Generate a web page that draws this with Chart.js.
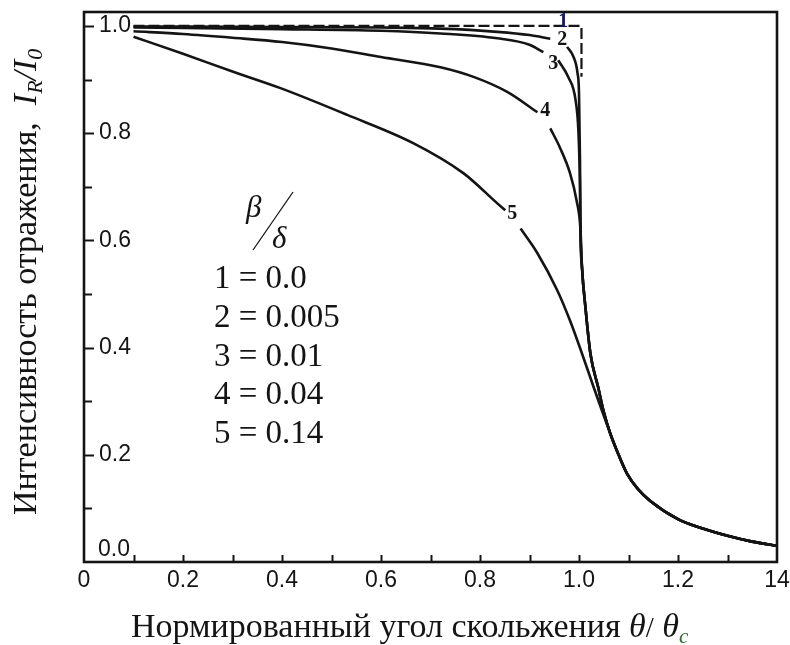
<!DOCTYPE html>
<html><head><meta charset="utf-8">
<script src="https://cdn.jsdelivr.net/npm/chart.js@4/dist/chart.umd.min.js"></script>
<style>html,body{margin:0;padding:0;background:#fff}canvas{display:block}</style>
</head><body>
<canvas id="c" width="790" height="645"></canvas>
<script>
// ---- tick labels ----
const xTickValues = [0, 0.2, 0.4, 0.6, 0.8, 1.0, 1.2, 1.4];
const xTickLabels = ['0', '0.2', '0.4', '0.6', '0.8', '1.0', '1.2', '14'];
const yTickValues = [0, 0.2, 0.4, 0.6, 0.8, 1.0];
const yTickLabels = ['0.0', '0.2', '0.4', '0.6', '0.8', '1.0'];
const xTitle = 'Нормированный угол скольжения ';
const yTitle = 'Интенсивность отражения,  ';
// ---- legend ----
const curveNames = ['1', '2', '3', '4', '5'];
const ratioLabels = ['1 = 0.0', '2 = 0.005', '3 = 0.01', '4 = 0.04', '5 = 0.14'];
// label anchors on curves (data coordinates)
const curveLabelX = [0.968, 0.966, 0.948, 0.932, 0.865];
const curveLabelY = [1.008, 0.974, 0.929, 0.841, 0.650];

// ---- series (x = θ/θc, y = I_R/I_0); null = gap for curve label ----
const c1x = [0.1, 0.4, 0.7, 1.005, 1.005];
const c1y = [1.0, 1.0, 1.0, 1.0, 0.905];
const c2x = [0.1, 0.4, 0.6, 0.72, 0.835, 0.9, 0.942, 0.96, 0.976, 0.989, 0.997, 1.0, 1.002];
const c2y = [0.999, 0.998, 0.997, 0.995, 0.989, 0.983, 0.976, null, 0.961, 0.942, 0.912, 0.875, 0.75];
const c3x = [0.1, 0.4, 0.6, 0.72, 0.835, 0.9, 0.928, 0.943, 0.958, 0.978, 0.993, 0.999, 1.002];
const c3y = [0.997, 0.994, 0.991, 0.986, 0.977, 0.965, 0.951, null, 0.936, 0.905, 0.862, 0.8, 0.7];
const c4x = [0.1, 0.2, 0.3, 0.4, 0.5, 0.6, 0.72, 0.787, 0.855, 0.916, 0.93, 0.942, 0.962, 0.982, 0.995];
const c4y = [0.99, 0.985, 0.978, 0.97, 0.958, 0.942, 0.923, 0.905, 0.877, 0.839, null, 0.809, 0.772, 0.725, 0.675];
const c5x = [0.1, 0.2, 0.3, 0.397, 0.532, 0.666, 0.767, 0.835, 0.851, 0.866, 0.882, 0.916, 0.956, 0.982, 1.006, 1.03, 1.056, 1.08, 1.097, 1.12];
const c5y = [0.98, 0.948, 0.915, 0.884, 0.834, 0.781, 0.725, 0.669, 0.656, null, 0.622, 0.576, 0.507, 0.45, 0.389, 0.325, 0.258, 0.2, 0.165, 0.135];
const tailX = [1.003, 1.006, 1.013, 1.023, 1.039, 1.05, 1.063, 1.08, 1.097, 1.12, 1.144, 1.2, 1.245, 1.3, 1.35, 1.4];
const tailY = [0.62, 0.55, 0.475, 0.389, 0.325, 0.28, 0.24, 0.2, 0.165, 0.135, 0.114, 0.08, 0.064, 0.049, 0.038, 0.03];

const mk = (xs, ys) => xs.map((x, i) => ({ x: x, y: ys[i] }));
const tailFrom = (x0) => mk(tailX, tailY).filter(p => p.x >= x0);

const INK = '#141414';
const SERIF = '"Liberation Serif", "Times New Roman", serif';
const SANS = '"Liberation Sans", Arial, sans-serif';

function lineDs(data, extra) {
  return Object.assign({
    data: data, borderColor: INK, borderWidth: 2.6, pointRadius: 0,
    fill: false, spanGaps: false, cubicInterpolationMode: 'monotone'
  }, extra || {});
}

const decor = {
  id: 'decor',
  afterDatasetsDraw(chart) {
    const ctx = chart.ctx, a = chart.chartArea;
    const xs = chart.scales.x, ys = chart.scales.y;
    ctx.save();
    // frame
    ctx.strokeStyle = INK; ctx.lineWidth = 2.6;
    ctx.strokeRect(a.left, a.top, a.right - a.left, a.bottom - a.top);
    // inward ticks
    ctx.lineWidth = 2;
    xs.ticks.forEach(t => {
      if (t.value <= 0 || t.value >= 1.4 - 1e-9) return;
      const px = Math.round(xs.getPixelForValue(t.value)) + 0.5;
      ctx.beginPath(); ctx.moveTo(px, a.bottom); ctx.lineTo(px, a.bottom - 7); ctx.stroke();
    });
    ys.ticks.forEach(t => {
      if (t.value <= 0) return;
      const py = Math.round(ys.getPixelForValue(t.value)) + 0.5;
      const major = Math.abs(t.value * 5 - Math.round(t.value * 5)) < 1e-6;
      ctx.beginPath(); ctx.moveTo(a.left, py); ctx.lineTo(a.left + (major ? 10 : 8), py); ctx.stroke();
    });
    // "0.0" label sits above the x axis
    ctx.fillStyle = INK; ctx.font = '23px ' + SANS;
    ctx.textAlign = 'left'; ctx.textBaseline = 'middle';
    ctx.fillText(yTickLabels[0], a.left + 14, ys.getPixelForValue(0) - 12);

    // x title
    ctx.textBaseline = 'alphabetic';
    let x = 131; const by = 637;
    const pieces = [
      [xTitle, '34px ' + SERIF, 0, INK],
      ['θ', 'italic 34px ' + SERIF, 0, INK],
      ['/', '29px ' + SERIF, 0, INK],
      [' θ', 'italic 34px ' + SERIF, 0, INK],
      ['c', 'italic 21px ' + SERIF, 6, '#2f6a2f']
    ];
    pieces.forEach(p => {
      ctx.font = p[1]; ctx.fillStyle = p[3];
      ctx.fillText(p[0], x, by + p[2]);
      x += ctx.measureText(p[0]).width;
    });

    // y title (rotated)
    ctx.save();
    ctx.translate(36, 515); ctx.rotate(-Math.PI / 2);
    let yx = 0;
    const ypieces = [
      [yTitle, '34px ' + SERIF, 0],
      ['I', 'italic 34px ' + SERIF, 0],
      ['R', 'italic 22px ' + SERIF, 6],
      ['/', 'italic 34px ' + SERIF, 0],
      ['I', 'italic 34px ' + SERIF, 0],
      ['0', 'italic 22px ' + SERIF, 6]
    ];
    ctx.fillStyle = INK;
    ypieces.forEach(p => {
      ctx.font = p[1];
      ctx.fillText(p[0], yx, p[2]);
      yx += ctx.measureText(p[0]).width;
    });
    ctx.restore();

    // legend block β/δ
    ctx.fillStyle = INK;
    ctx.font = 'italic 31px ' + SERIF;
    ctx.fillText('β', 246, 217);
    ctx.fillText('δ', 272, 248);
    ctx.lineWidth = 1.3;
    ctx.beginPath(); ctx.moveTo(293, 192); ctx.lineTo(253, 250); ctx.stroke();
    ctx.font = '33px ' + SERIF;
    ratioLabels.forEach((s, i) => ctx.fillText(s, 214, 288 + i * 38.8));

    // curve labels
    ctx.font = 'bold 20px ' + SERIF; ctx.textAlign = 'center'; ctx.textBaseline = 'middle';
    curveNames.forEach((n, i) => {
      ctx.fillStyle = i === 0 ? '#16165e' : INK;
      ctx.fillText(n, xs.getPixelForValue(curveLabelX[i]), ys.getPixelForValue(curveLabelY[i]));
    });
    ctx.restore();
  }
};

new Chart(document.getElementById('c'), {
  type: 'line',
  data: {
    datasets: [
      lineDs(mk(c1x, c1y), { borderDash: [11, 4], borderWidth: 2.2, cubicInterpolationMode: 'default', tension: 0 }),
      lineDs(mk(c2x, c2y).concat(tailFrom(1.003))),
      lineDs(mk(c3x, c3y).concat(tailFrom(1.003))),
      lineDs(mk(c4x, c4y).concat(tailFrom(1.003))),
      lineDs(mk(c5x, c5y).concat(tailFrom(1.144)))
    ]
  },
  options: {
    responsive: false, animation: false, devicePixelRatio: 1,
    layout: { padding: { top: 12, right: 13, left: 0, bottom: 0 } },
    plugins: { legend: { display: false }, tooltip: { enabled: false } },
    scales: {
      x: {
        type: 'linear', position: 'bottom', min: 0, max: 1.4,
        afterFit(s) { s.height = 83; s.paddingLeft = 0; s.paddingRight = 0; },
        afterBuildTicks(s) { const t = []; for (let i = 0; i <= 14; i++) t.push({ value: i / 10 }); s.ticks = t; },
        grid: { display: false, drawTicks: false }, border: { display: false },
        ticks: {
          autoSkip: false, maxRotation: 0, padding: 5, color: INK,
          font: { family: SANS, size: 23 },
          callback(v) { const i = xTickValues.findIndex(t => Math.abs(t - v) < 1e-6); return i >= 0 ? xTickLabels[i] : ''; }
        }
      },
      y: {
        type: 'linear', position: 'left', min: 0, max: 1.026,
        afterFit(s) { s.width = 84; s.paddingTop = 0; s.paddingBottom = 0; },
        afterBuildTicks(s) { const t = []; for (let i = 0; i <= 10; i++) t.push({ value: i / 10 }); s.ticks = t; },
        grid: { display: false, drawTicks: false }, border: { display: false },
        ticks: {
          mirror: true, padding: 15, color: INK,
          font: { family: SANS, size: 23 },
          callback(v) { if (Math.abs(v) < 1e-6) return ''; const i = yTickValues.findIndex(t => Math.abs(t - v) < 1e-6); return i >= 0 ? yTickLabels[i] : ''; }
        }
      }
    }
  },
  plugins: [decor]
});
</script>
</body></html>
